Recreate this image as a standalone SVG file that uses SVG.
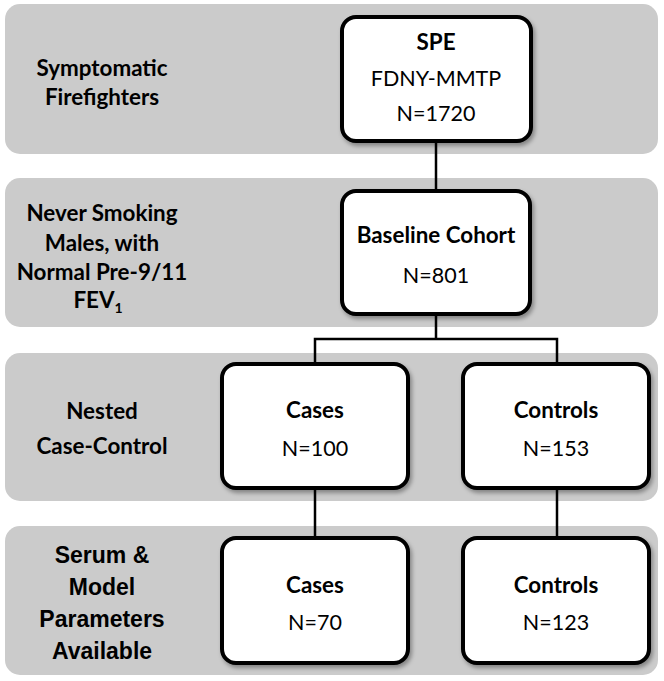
<svg xmlns="http://www.w3.org/2000/svg" width="664" height="681" viewBox="0 0 664 681">
<defs>
<style>
.band{fill:#cbcbcb;}
.box{fill:#ffffff;stroke:#000000;stroke-width:4;}
.conn{stroke:#000000;stroke-width:2.5;fill:none;}
.t{font-family:Lato,"Open Sans",sans-serif;font-size:21.5px;fill:#000;text-anchor:middle;}
.b{font-weight:bold;font-size:22.4px;}
.a{font-family:"Liberation Sans",Arial,sans-serif;font-size:23px;font-weight:bold;fill:#000;text-anchor:middle;}
</style>
<filter id="sh" x="-10%" y="-10%" width="130%" height="130%">
<feDropShadow dx="2" dy="3" stdDeviation="2" flood-color="#000" flood-opacity="0.35"/>
</filter>
</defs>
<rect width="664" height="681" fill="#ffffff"/>
<g id="bands">
<rect class="band" x="5" y="4" width="653" height="150" rx="15"/>
<rect class="band" x="5" y="178" width="653" height="149" rx="15"/>
<rect class="band" x="5" y="353" width="653" height="148" rx="15"/>
<rect class="band" x="5" y="526" width="653" height="149" rx="15"/>
</g>
<g id="row-labels">
<text class="t b" x="102" y="76">Symptomatic</text>
<text class="t b" x="102" y="105">Firefighters</text>
<text class="t b" x="102" y="221">Never Smoking</text>
<text class="t b" x="102" y="251">Males, with</text>
<text class="t b" x="102" y="280">Normal Pre-9/11</text>
<text class="t b" x="98" y="308">FEV<tspan font-size="14" dy="5">1</tspan></text>
<text class="t b" x="102" y="419">Nested</text>
<text class="t b" x="102" y="454">Case-Control</text>
<text class="a" x="102" y="563">Serum &amp;</text>
<text class="a" x="102" y="595">Model</text>
<text class="a" x="102" y="627">Parameters</text>
<text class="a" x="102" y="659">Available</text>
</g>
<g id="connectors">
<line class="conn" x1="436" y1="141" x2="436" y2="191"/>
<polyline class="conn" points="436,314 436,339"/>
<polyline class="conn" points="315,364 315,339 557,339 557,364"/>
<line class="conn" x1="315" y1="488" x2="315" y2="538"/>
<line class="conn" x1="557" y1="488" x2="557" y2="538"/>
</g>
<g id="node-spe">
<rect class="box" filter="url(#sh)" x="342" y="17" width="189" height="124" rx="14"/>
<text class="t b" x="436" y="50">SPE</text>
<text class="t" x="436" y="86">FDNY-MMTP</text>
<text class="t" x="436" y="121">N=1720</text>
</g>
<g id="node-baseline">
<rect class="box" filter="url(#sh)" x="342" y="191" width="188" height="123" rx="14"/>
<text class="t b" x="436" y="243">Baseline Cohort</text>
<text class="t" x="436" y="283">N=801</text>
</g>
<g id="node-cases1">
<rect class="box" filter="url(#sh)" x="222" y="364" width="186" height="124" rx="14"/>
<text class="t b" x="315" y="418">Cases</text>
<text class="t" x="315" y="456">N=100</text>
</g>
<g id="node-controls1">
<rect class="box" filter="url(#sh)" x="463" y="364" width="186" height="124" rx="14"/>
<text class="t b" x="556" y="418">Controls</text>
<text class="t" x="556" y="456">N=153</text>
</g>
<g id="node-cases2">
<rect class="box" filter="url(#sh)" x="222" y="538" width="186" height="125" rx="14"/>
<text class="t b" x="315" y="593">Cases</text>
<text class="t" x="315" y="630">N=70</text>
</g>
<g id="node-controls2">
<rect class="box" filter="url(#sh)" x="463" y="538" width="186" height="125" rx="14"/>
<text class="t b" x="556" y="593">Controls</text>
<text class="t" x="556" y="630">N=123</text>
</g>
</svg>
